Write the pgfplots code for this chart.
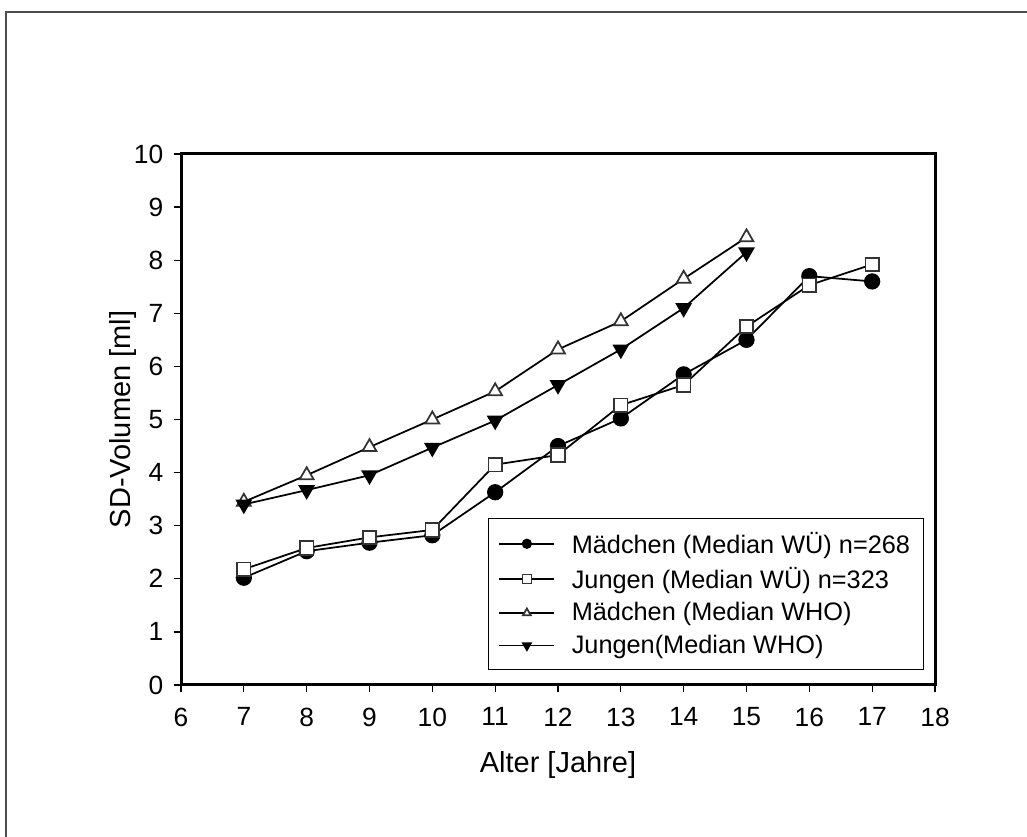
\documentclass[border=0pt]{standalone}
\usepackage{fontspec}
\setmainfont{Liberation Sans}
\usepackage{pgfplots}
\pgfplotsset{compat=1.18}

% 1 px of the reference = 0.2 mm
\begin{document}
\begin{tikzpicture}
\useasboundingbox (0,0) rectangle (205.4mm,167.4mm);
\draw[line width=0.45mm, black!70] (1.2mm,0) -- (1.2mm,165mm) -- (205.4mm,165mm);
\begin{axis}[
  at={(36.2mm,30.4mm)}, anchor=south west,
  scale only axis,
  width=150.8mm, height=106.2mm,
  xmin=6, xmax=18, ymin=0, ymax=10,
  xtick={6,...,18}, ytick={0,...,10},
  tick align=outside, xtick pos=bottom, ytick pos=left,
  major tick length=1.5mm,
  tick style={line width=0.25mm, black},
  axis line style={line width=0.6mm},
  /pgf/number format/assume math mode=true,
  xticklabel style={font=\fontsize{15}{18}\selectfont, yshift=-1.8mm},
  yticklabel style={font=\fontsize{15}{18}\selectfont, xshift=-0.8mm},
  label style={font=\fontsize{16.5}{19}\selectfont},
  xlabel={Alter [Jahre]},
  ylabel={SD-Volumen [ml]},
  xlabel style={at={(axis description cs:0.5,-0.151)}, anchor=center},
  ylabel style={at={(axis description cs:-0.077,0.5)}, anchor=center},
  legend style={at={(0.4072,0.0282)}, anchor=south west,
    font=\fontsize{14.4}{17}\selectfont, draw=black, line width=0.2mm,
    cells={anchor=west}, row sep=0.9mm, inner xsep=2mm, inner ysep=2mm},
  legend image code/.code={%
    \draw[mark repeat=2, mark phase=2, #1, mark size=0.9mm]
      plot coordinates {(0mm,0mm) (5.5mm,0mm) (11mm,0mm)};
    \path (13.6mm,0mm);},
  every axis plot/.append style={black, line width=0.35mm,
    mark options={solid, line width=0.25mm}},
]
\addplot[mark=*, mark size=1.5mm] coordinates {
  (7,2.02) (8,2.52) (9,2.68) (10,2.82) (11,3.63) (12,4.50)
  (13,5.02) (14,5.85) (15,6.50) (16,7.70) (17,7.60)
};
\addlegendentry{Mädchen (Median WÜ) n=268}
\addplot[mark=square*, mark size=1.35mm, mark options={fill=white, draw=black!80}] coordinates {
  (7,2.18) (8,2.58) (9,2.78) (10,2.92) (11,4.15) (12,4.33)
  (13,5.27) (14,5.65) (15,6.75) (16,7.53) (17,7.92)
};
\addlegendentry{Jungen (Median WÜ) n=323}
\addplot[mark=triangle*, mark size=1.6mm, mark options={fill=white, draw=black!80}] coordinates {
  (7,3.45) (8,3.95) (9,4.48) (10,5.00) (11,5.53) (12,6.32)
  (13,6.85) (14,7.65) (15,8.43)
};
\addlegendentry{Mädchen (Median WHO)}
\addplot[mark=triangle*, mark size=1.6mm, mark options={rotate=180, fill=black}] coordinates {
  (7,3.40) (8,3.67) (9,3.95) (10,4.47) (11,4.98) (12,5.65)
  (13,6.32) (14,7.10) (15,8.15)
};
\addlegendentry{Jungen(Median WHO)}
\end{axis}
\end{tikzpicture}
\end{document}
